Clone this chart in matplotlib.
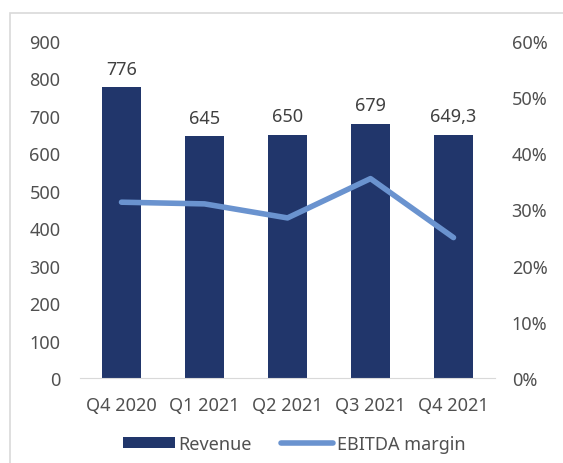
import matplotlib
matplotlib.use("Agg")
import matplotlib.pyplot as plt
from matplotlib.patches import Rectangle
from matplotlib.ticker import FuncFormatter
import numpy as np

quarters = ["Q4 2020", "Q1 2021", "Q2 2021", "Q3 2021", "Q4 2021"]
revenue = [776, 645, 650, 679, 649.3]
revenue_labels = ["776", "645", "650", "679", "649,3"]
ebitda_margin = [31.3, 31.0, 28.5, 35.5, 25.0]  # percent

BAR_COLOR = "#21366B"
LINE_COLOR = "#6A93CF"
TEXT_COLOR = "#505050"

plt.rcParams["font.family"] = ["Noto Sans", "DejaVu Sans"]
plt.rcParams["font.size"] = 13

fig = plt.figure(figsize=(5.63, 4.64), dpi=100)
W, H = 563, 464
ax = fig.add_axes([80 / W, 1 - 379 / H, 415 / W, 337 / H])

# light frame around the whole chart
fig.patches.append(Rectangle((9.5 / W, -0.1), 1.2, 1 - 13.5 / H + 0.1,
                             transform=fig.transFigure, fill=False,
                             edgecolor="#D9D9D9", linewidth=1.2))

x = np.arange(len(quarters))
bars = ax.bar(x, revenue, width=0.46, color=BAR_COLOR, label="Revenue", zorder=2)
for xi, v, lab in zip(x, revenue, revenue_labels):
    ax.annotate(lab, (xi, v), xytext=(0, 7), textcoords="offset points",
                ha="center", va="bottom", color="#404040", fontsize=13)

ax.set_xlim(-0.5, len(quarters) - 0.5)
ax.set_ylim(0, 900)
ax.set_yticks(range(0, 901, 100))
ax.set_xticks(x)
ax.set_xticklabels(quarters)
for s in ["top", "right", "left"]:
    ax.spines[s].set_visible(False)
ax.spines["bottom"].set_color("#D9D9D9")
ax.tick_params(axis="both", length=0, colors=TEXT_COLOR, labelsize=13)
ax.tick_params(axis="y", pad=14)
ax.tick_params(axis="x", pad=13)

ax2 = ax.twinx()
line, = ax2.plot(x, ebitda_margin, color=LINE_COLOR, linewidth=4,
                 solid_capstyle="round", solid_joinstyle="round",
                 label="EBITDA margin", zorder=3)
ax2.set_ylim(0, 60)
ax2.set_yticks(range(0, 61, 10))
ax2.yaxis.set_major_formatter(FuncFormatter(lambda v, p: f"{v:.0f}%"))
for s in ax2.spines.values():
    s.set_visible(False)
ax2.tick_params(axis="y", length=0, colors=TEXT_COLOR, labelsize=13, pad=12)

leg = fig.legend([bars, line], ["Revenue", "EBITDA margin"], loc="center",
                 bbox_to_anchor=(294 / W, 1 - 445 / H), ncol=2, frameon=False,
                 fontsize=13, handlelength=2.9, handleheight=0.6,
                 handletextpad=0.2, columnspacing=1.6)
for t in leg.get_texts():
    t.set_color(TEXT_COLOR)

fig.savefig("out.png", dpi=100)
